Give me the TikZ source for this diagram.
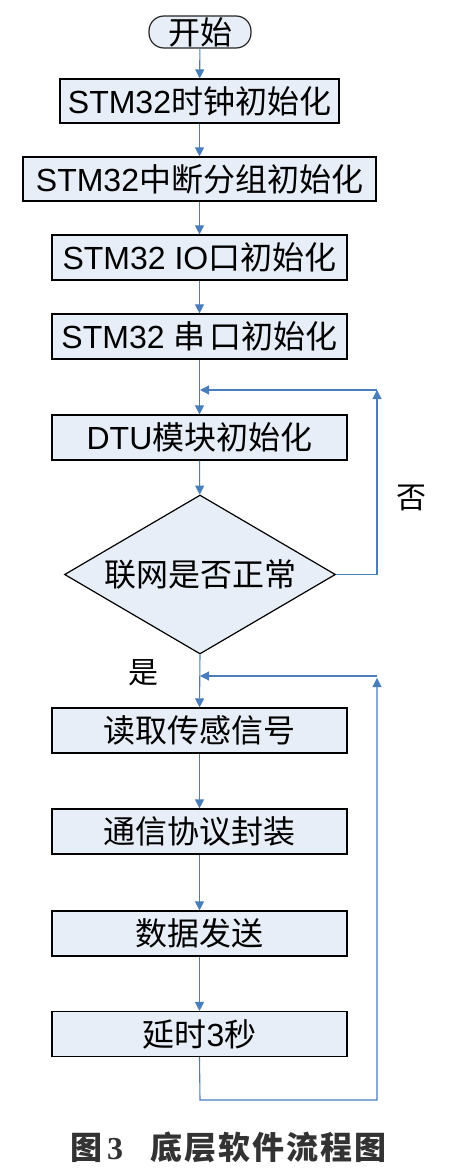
\documentclass[tikz,border=0pt]{standalone}
\usepackage{fontspec}
\setmainfont{Liberation Sans}
\newfontfamily\cjk{Noto Sans CJK SC}
\newfontfamily\capserif{Liberation Serif}
\usetikzlibrary{shapes.geometric,arrows.meta}
\definecolor{flow}{HTML}{4A7EBB}
\definecolor{boxfill}{HTML}{E8EEF7}
\definecolor{captext}{HTML}{333333}
\tikzset{
  procbox/.style={draw=black, line width=1.2pt, fill=boxfill, minimum width=295pt,
    minimum height=45pt, inner sep=0pt, font=\fontsize{32}{32}\selectfont},
  termbox/.style={draw=black!85, line width=1.2pt, fill=boxfill, rounded corners=15pt,
    minimum width=102pt, minimum height=32pt, inner sep=0pt, font=\fontsize{32}{32}\selectfont},
  decbox/.style={draw=black, line width=1.2pt, fill=boxfill, diamond, aspect=1.7,
    minimum width=271pt, minimum height=159pt, inner sep=0pt, font=\fontsize{32}{32}\selectfont},
  flowline/.style={draw=flow, line width=1.1pt},
  flowarrow/.style={flowline, -{Triangle[width=9pt,length=9pt]}},
  lbl/.style={inner sep=0pt, font=\fontsize{30}{30}\selectfont\cjk},
}
\begin{document}
\begin{tikzpicture}[x=1pt,y=-1pt]
\useasboundingbox (0,0) rectangle (451,1170);
\node[termbox] (start) at (200,32) {\cjk 开始};
\node[procbox, minimum width=279pt, minimum height=44pt] (b1) at (199.5,101) {STM32{\cjk 时钟初始化}};
\node[procbox, minimum width=353pt, minimum height=44pt] (b2) at (199.5,179) {STM32{\cjk 中断分组初始化}};
\node[procbox] (b3) at (199.5,257.5) {STM32 IO{\cjk 口初始化}};
\node[procbox] (b4) at (199.5,336.5) {STM32 {\cjk 串\hspace{4pt}口初始化}};
\node[procbox] (dtu) at (199.5,437.5) {DTU{\cjk 模块初始化}};
\node[decbox] (dia) at (200,574.5) {\cjk 联网是否正常};
\node[procbox] (read) at (199.5,730.5) {\cjk 读取传感信号};
\node[procbox] (comm) at (199.5,831.5) {\cjk 通信协议封装};
\node[procbox] (data) at (199.5,933.5) {\cjk 数据发送};
\node[procbox] (delay) at (199.5,1034) {{\cjk 延时}3{\cjk 秒}};

\node[lbl] (no) at (411,498) {否};
\node[lbl] (yes) at (143,673) {是};

\coordinate (l1r) at (377,390);
\coordinate (l1l) at (200,390);
\coordinate (l2r) at (377,676);
\coordinate (l2l) at (200,676);
\coordinate (l2tip) at (377,678);
\coordinate (bot) at (200,1100);

\draw[flowarrow] (start) -- (b1);
\draw[flowarrow] (b1) -- (b2);
\draw[flowarrow] (b2) -- (b3);
\draw[flowarrow] (b3) -- (b4);
\draw[flowarrow] (b4) -- (dtu);
\draw[flowarrow] (dtu) -- (dia);
\draw[flowarrow] (dia.east) -| (l1r);
\draw[flowarrow] (l1r) -- (l1l);
\draw[flowarrow] (dia.south) -- (read.north);
\draw[flowarrow] (read) -- (comm);
\draw[flowarrow] (comm) -- (data);
\draw[flowarrow] (data) -- (delay);
\draw[flowarrow] (delay.south) -- (bot) -| (l2tip);
\draw[flowarrow] (l2r) -- (l2l);

\node[inner sep=0pt, text=captext, font=\fontsize{32}{32}\selectfont\bfseries] (cap) at (228.5,1147)
  {{\cjk 图}\hspace{5pt}{\capserif 3}\hspace{28pt}{\cjk 底\hspace{2pt}层\hspace{2pt}软\hspace{2pt}件\hspace{2pt}流\hspace{2pt}程\hspace{2pt}图}};
\end{tikzpicture}
\end{document}
